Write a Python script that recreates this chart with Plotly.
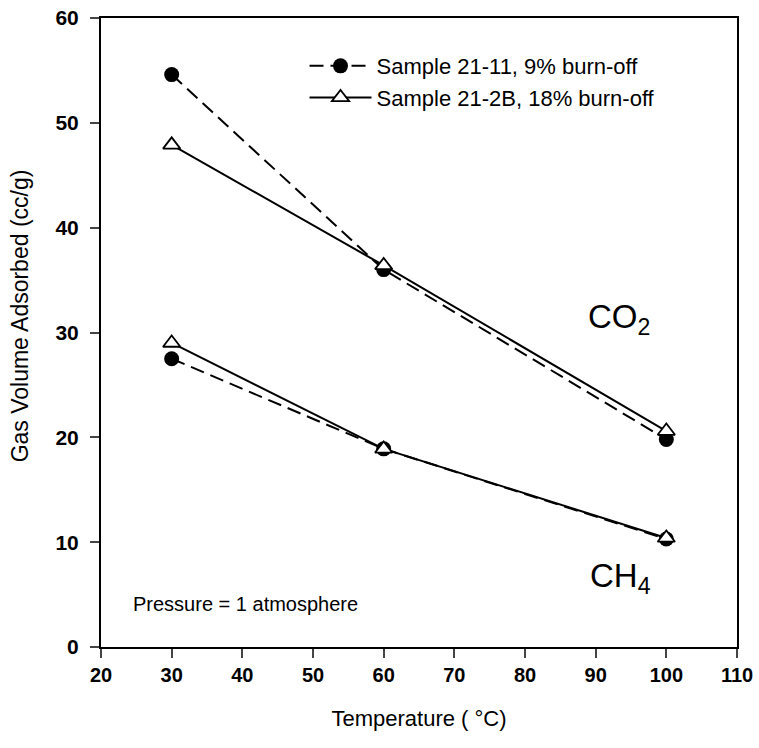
import plotly.graph_objects as go

temps = [30, 60, 100]
co2_s2111 = [54.6, 36.0, 19.8]
co2_s212b = [47.9, 36.4, 20.6]
ch4_s2111 = [27.5, 18.9, 10.3]
ch4_s212b = [29.0, 18.9, 10.4]

name_a = "Sample 21-11, 9% burn-off"
name_b = "Sample 21-2B, 18% burn-off"

fig = go.Figure()
line_a = dict(color="black", width=2, dash="14px,7px")
marker_a = dict(symbol="circle", size=15, color="black")
line_b = dict(color="black", width=2)
marker_b = dict(symbol="triangle-up", size=15, color="white", line=dict(color="black", width=1.8))

fig.add_trace(go.Scatter(x=temps, y=co2_s2111, mode="lines+markers", name=name_a,
                         legendgroup="a", line=line_a, marker=marker_a))
fig.add_trace(go.Scatter(x=temps, y=ch4_s2111, mode="lines+markers", name=name_a,
                         legendgroup="a", showlegend=False, line=line_a, marker=marker_a))
fig.add_trace(go.Scatter(x=temps, y=co2_s212b, mode="lines+markers", name=name_b,
                         legendgroup="b", line=line_b, marker=marker_b))
fig.add_trace(go.Scatter(x=temps, y=ch4_s212b, mode="lines+markers", name=name_b,
                         legendgroup="b", showlegend=False, line=line_b, marker=marker_b))

font = "Liberation Sans, Arial, sans-serif"
fig.update_layout(
    width=759, height=748,
    margin=dict(l=101, r=22, t=18, b=101),
    plot_bgcolor="white", paper_bgcolor="white",
    font=dict(family=font, size=20, color="black"),
    showlegend=True,
    legend=dict(x=0.32, y=0.957, xanchor="left", yanchor="top",
                bgcolor="rgba(0,0,0,0)", font=dict(size=22), tracegroupgap=0,
                itemwidth=62),
    xaxis=dict(range=[20, 110], tick0=20, dtick=10, ticks="outside", ticklen=9,
               tickwidth=1.5, showline=True, linewidth=2, linecolor="black",
               mirror=True, showgrid=False, zeroline=False, automargin=False,
               tickfont=dict(size=20, family=font, weight="bold"),
               title=dict(text="Temperature ( °C)", font=dict(size=22), standoff=26)),
    yaxis=dict(range=[0, 60], tick0=0, dtick=10, ticks="outside", ticklen=9,
               tickwidth=1.5, showline=True, linewidth=2, linecolor="black",
               mirror=True, showgrid=False, zeroline=False, ticklabelstandoff=7,
               automargin=False,
               tickfont=dict(size=21, family=font, weight="bold")),
    annotations=[
        dict(x=-0.127, y=0.526, xref="paper", yref="paper", text="Gas Volume Adsorbed (cc/g)",
             showarrow=False, textangle=-90, font=dict(size=23),
             xanchor="center", yanchor="middle"),
        dict(x=93.3, y=31.3, xref="x", yref="y", text="CO<sub>2</sub>", showarrow=False,
             font=dict(size=33), xanchor="center", yanchor="middle"),
        dict(x=93.5, y=6.6, xref="x", yref="y", text="CH<sub>4</sub>", showarrow=False,
             font=dict(size=33), xanchor="center", yanchor="middle"),
        dict(x=24.3, y=4.1, xref="x", yref="y", text="Pressure = 1 atmosphere", showarrow=False,
             font=dict(size=20), xanchor="left", yanchor="middle"),
    ],
)

fig.write_html("out.html")
